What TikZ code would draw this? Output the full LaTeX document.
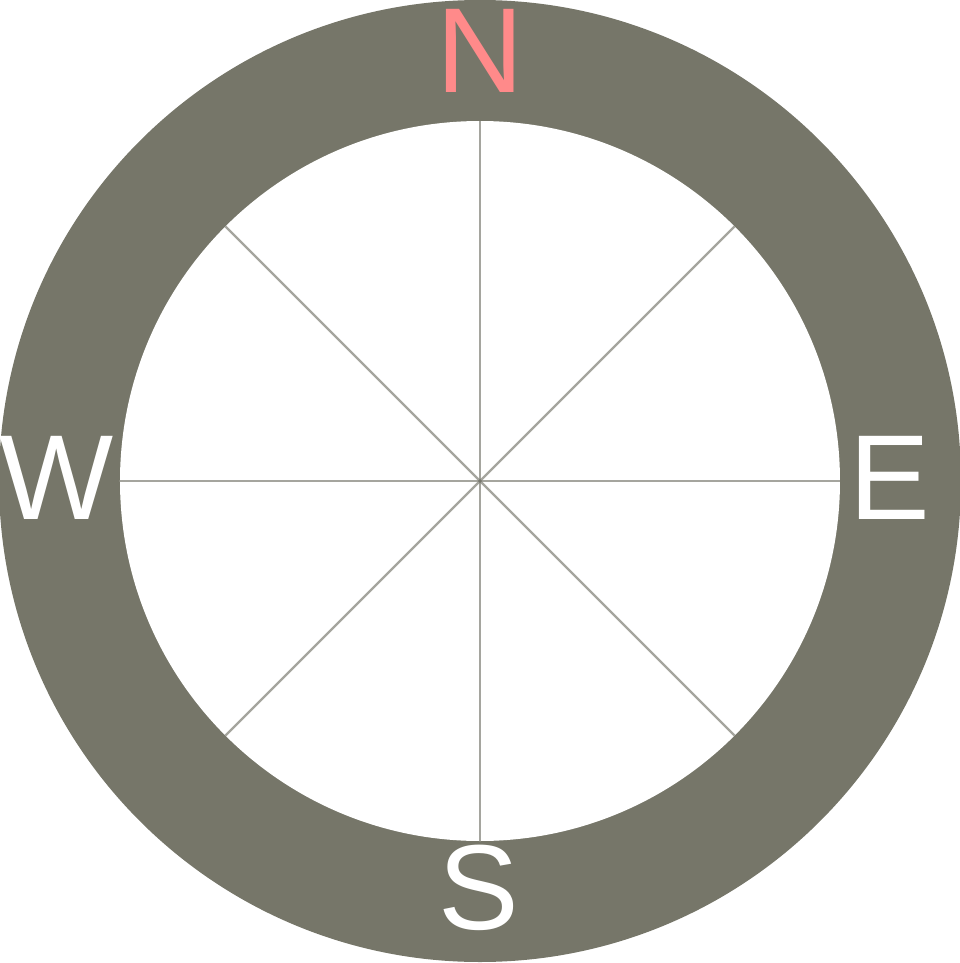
\documentclass[tikz,border=0pt]{standalone}
\usepackage{fontspec}
\setmainfont{Liberation Sans}
\definecolor{ringfill}{HTML}{767669}
\definecolor{spoke}{HTML}{75756A}
\definecolor{north}{HTML}{FF8A8A}
\definecolor{txt}{HTML}{FFFFFF}

\begin{document}
\begin{tikzpicture}[
  x=0.25mm, y=0.25mm,
  ring/.style={circle, fill=ringfill, inner sep=0pt, outer sep=0pt, minimum size=962*0.25mm},
  dial/.style={circle, fill=white, inner sep=0pt, outer sep=0pt, minimum size=720*0.25mm},
  ray/.style={draw=spoke, draw opacity=0.65, line width=0.6mm},
  card/.style={anchor=base, inner sep=0pt, text=txt, font=\fontsize{86}{86}\selectfont},
]
\useasboundingbox (-480,-482) rectangle (480,481);
% --- ring and dial ---
\node[ring] (rim) at (0,0) {};
\node[dial] (face) at (0,0) {};
% --- spokes ---
\foreach \a in {0,45,...,315}
  \draw[ray] (face.center) -- (face.\a);
% --- cardinal letters ---
\node[card, text=north] (n) at (0,389)     {N};
\node[card]             (e) at (409.5,-38) {E};
\node[card]             (s) at (-1,-448)   {S};
\node[card]             (w) at (-423,-38)  {W};
\end{tikzpicture}
\end{document}
